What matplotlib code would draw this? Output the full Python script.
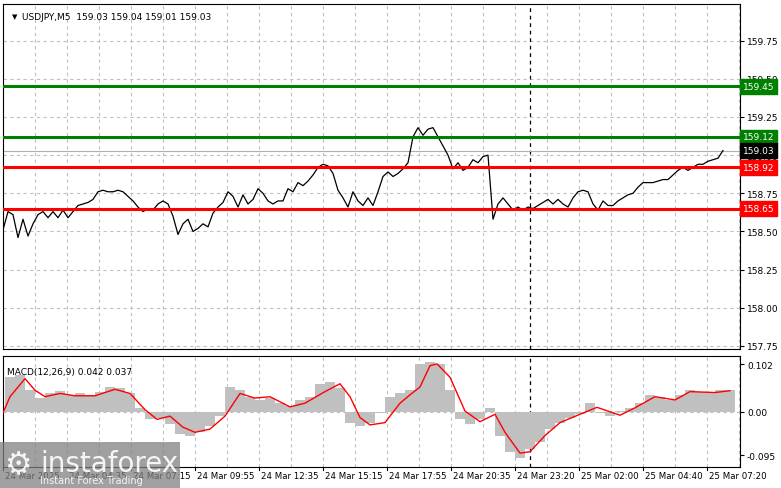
import numpy as np
import matplotlib
matplotlib.use('Agg')
import matplotlib.pyplot as plt
from matplotlib.patches import Rectangle

# price samples, one every 2.5 bars (M5)
price = [158.51, 158.63, 158.61, 158.46, 158.58, 158.47, 158.55, 158.61, 158.63, 158.59,
         158.63, 158.59, 158.64, 158.59, 158.63, 158.67, 158.68, 158.69, 158.71, 158.76,
         158.77, 158.76, 158.76, 158.77, 158.76, 158.73, 158.70, 158.66, 158.63, 158.65,
         158.64, 158.68, 158.70, 158.68, 158.60, 158.48, 158.55, 158.58, 158.50, 158.52,
         158.55, 158.53, 158.62, 158.66, 158.69, 158.76, 158.73, 158.66, 158.74, 158.68,
         158.71, 158.78, 158.75, 158.70, 158.68, 158.70, 158.70, 158.78, 158.76, 158.82,
         158.80, 158.83, 158.87, 158.92, 158.94, 158.93, 158.88, 158.77, 158.72, 158.66,
         158.76, 158.70, 158.67, 158.72, 158.67, 158.76, 158.86, 158.89, 158.86, 158.88,
         158.91, 158.95, 159.12, 159.18, 159.13, 159.17, 159.18, 159.12, 159.06, 159.00,
         158.91, 158.95, 158.90, 158.92, 158.97, 158.95, 158.99, 159.00, 158.58, 158.68,
         158.72, 158.68, 158.64, 158.66, 158.64, 158.66, 158.65, 158.67, 158.69, 158.71,
         158.68, 158.71, 158.68, 158.66, 158.72, 158.76, 158.77, 158.76, 158.68, 158.64,
         158.70, 158.67, 158.67, 158.70, 158.72, 158.74, 158.75, 158.79, 158.82, 158.82,
         158.82, 158.83, 158.84, 158.84, 158.87, 158.90, 158.92, 158.90, 158.92, 158.94,
         158.94, 158.96, 158.97, 158.98, 159.03]

# MACD histogram, one value every 5 bars starting at bar 3.5
macd_hist = [0.074, 0.080, 0.046, 0.029, 0.039, 0.045, 0.036, 0.039, 0.036,
             0.043, 0.053, 0.050, 0.039, 0.008, -0.017, -0.013, -0.027, -0.048, -0.052,
             -0.045, -0.031, -0.010, 0.053, 0.046, 0.032, 0.025, 0.029, 0.018, 0.011,
             0.025, 0.032, 0.060, 0.064, 0.050, -0.024, -0.031, -0.024, -0.003, 0.032,
             0.039, 0.046, 0.102, 0.108, 0.102, 0.046, -0.017, -0.027, -0.017, 0.008,
             -0.052, -0.087, -0.101, -0.080, -0.066, -0.038, -0.024, -0.013, -0.006, 0.018,
             -0.003, -0.010, 0.001, 0.008, 0.018, 0.036, 0.032, 0.025, 0.036, 0.046,
             0.043, 0.043, 0.046, 0.046]

signal_bar = [0, 3.5, 11, 16, 21, 28.5, 36, 46, 56, 63.5, 71, 77, 83.5, 90, 96, 103.5, 111,
              118.5, 126, 133.5, 143.5, 151, 161, 168.5, 173.5, 178.5, 183.5, 191, 198.5,
              203.5, 208.5, 213.5, 217, 223.5, 231, 238.5, 246, 251, 258.5, 263.5, 271,
              278.5, 288.5, 297, 308.5, 316, 326, 336, 343.5, 356, 363.5]
signal = [-0.003, 0.032, 0.071, 0.046, 0.032, 0.039, 0.034, 0.034, 0.048, 0.039,
          0.004, -0.017, -0.010, -0.034, -0.045, -0.038, -0.010, 0.039, 0.029, 0.032,
          0.010, 0.018, 0.043, 0.060, 0.032, -0.013, -0.029, -0.024, 0.018, 0.036,
          0.053, 0.099, 0.103, 0.074, 0.001, -0.022, -0.006, -0.045, -0.090, -0.087,
          -0.052, -0.024, -0.006, 0.009, -0.008, 0.008, 0.032, 0.025, 0.043, 0.041, 0.045]

green_levels = [159.45, 159.12]
red_levels = [158.92, 158.65]
last_price = 159.03
price_ticks = [157.75, 158.00, 158.25, 158.50, 158.75, 159.00, 159.25, 159.50, 159.75]
time_labels = ['24 Mar 2025', '24 Mar 04:35', '24 Mar 07:15', '24 Mar 09:55', '24 Mar 12:35',
               '24 Mar 15:15', '24 Mar 17:55', '24 Mar 20:35', '24 Mar 23:20',
               '25 Mar 02:00', '25 Mar 04:40', '25 Mar 07:20']

W, H = 781, 489
fig = plt.figure(figsize=(W / 100, H / 100), dpi=100)
fig.patch.set_facecolor('white')
L, R = 3 / W, 740 / W
ax = fig.add_axes([L, 1 - 350 / H, R - L, 345 / H])
axm = fig.add_axes([L, 1 - 468 / H, R - L, 111 / H])

XMAX = 368.5
grid_kw = dict(color='#c0c0c0', ls=(0, (3, 3)), lw=0.8)
for a in (ax, axm):
    a.set_xlim(0, XMAX)
    for b in np.arange(16, XMAX, 16):
        a.axvline(b, zorder=0, **grid_kw)
    a.axvline(263.5, color='black', ls=(0, (3, 3)), lw=0.9, zorder=1)
    a.yaxis.tick_right()
    a.tick_params(axis='y', labelsize=6.5, length=3, pad=2)
    a.tick_params(axis='x', length=0)
    a.set_xticks([])
    for s in a.spines.values():
        s.set_linewidth(0.8)

# main price panel
ax.set_ylim(157.73, 159.99)
ax.set_yticks(price_ticks)
ax.set_yticklabels([f'{t:.2f}' for t in price_ticks])
for t in price_ticks:
    ax.axhline(t, zorder=0, **grid_kw)
x = np.arange(len(price)) * 2.5
ax.plot(x, price, color='black', lw=0.9, zorder=3)
ax.axhline(last_price, color='#b0b0b0', lw=0.8, zorder=2)
for lv in green_levels:
    ax.axhline(lv, color='#008000', lw=2.2, zorder=4)
for lv in red_levels:
    ax.axhline(lv, color='#ff0000', lw=2.2, zorder=4)

def tag(a, y, text, bg):
    a.text(1.004, y, text, transform=a.get_yaxis_transform(), fontsize=6.5, color='white',
           va='center', ha='left', zorder=10,
           bbox=dict(boxstyle='square,pad=0.3', fc=bg, ec=bg))

for lv in green_levels:
    tag(ax, lv, f'{lv:.2f}', '#008000')
for lv in red_levels:
    tag(ax, lv, f'{lv:.2f}', '#ff0000')
tag(ax, last_price, f'{last_price:.2f}', 'black')

ax.text(0.012, 0.965, '\u25BC', transform=ax.transAxes, fontsize=5, va='center')
ax.text(0.026, 0.965, 'USDJPY,M5  159.03 159.04 159.01 159.03', transform=ax.transAxes,
        fontsize=6.5, va='center')

# MACD panel
axm.set_ylim(-0.12, 0.12)
axm.set_yticks([-0.095, 0.0, 0.102])
axm.set_yticklabels(['-0.095', '0.00', '0.102'])
axm.axhline(0, zorder=0, **grid_kw)
hb = 3.5 + 5 * np.arange(len(macd_hist))
axm.bar(hb, macd_hist, width=5, color='#c0c0c0', zorder=2)
axm.plot(signal_bar, signal, color='#ff0000', lw=1.0, zorder=3)
axm.text(0.006, 0.86, 'MACD(12,26,9) 0.042 0.037', transform=axm.transAxes, fontsize=6.5,
         va='center')

# time labels below MACD panel
for i, lab in enumerate(time_labels):
    axm.text(32 * i + 1, -0.128, lab, fontsize=6.2, va='top', ha='left',
             transform=axm.transData, clip_on=False)
for i in range(len(time_labels)):
    axm.plot([32 * i, 32 * i], [-0.12, -0.127], color='black', lw=0.8, clip_on=False)

# watermark
fig.patches.append(Rectangle((0, 0), 180 / W, 46 / H, transform=fig.transFigure,
                             fc='#808080', alpha=0.75, ec='none', zorder=20))
fig.text(40 / W, 25 / H, 'instaforex', color='white', fontsize=20, va='center',
         zorder=21, alpha=0.9)
fig.text(40 / W, 8 / H, 'Instant Forex Trading', color='white', fontsize=7, va='center',
         zorder=21, alpha=0.9)
fig.text(18 / W, 23 / H, '\u2699', color='white', fontsize=22, va='center', ha='center',
         zorder=21, alpha=0.9)

fig.savefig('out.png', dpi=100)
